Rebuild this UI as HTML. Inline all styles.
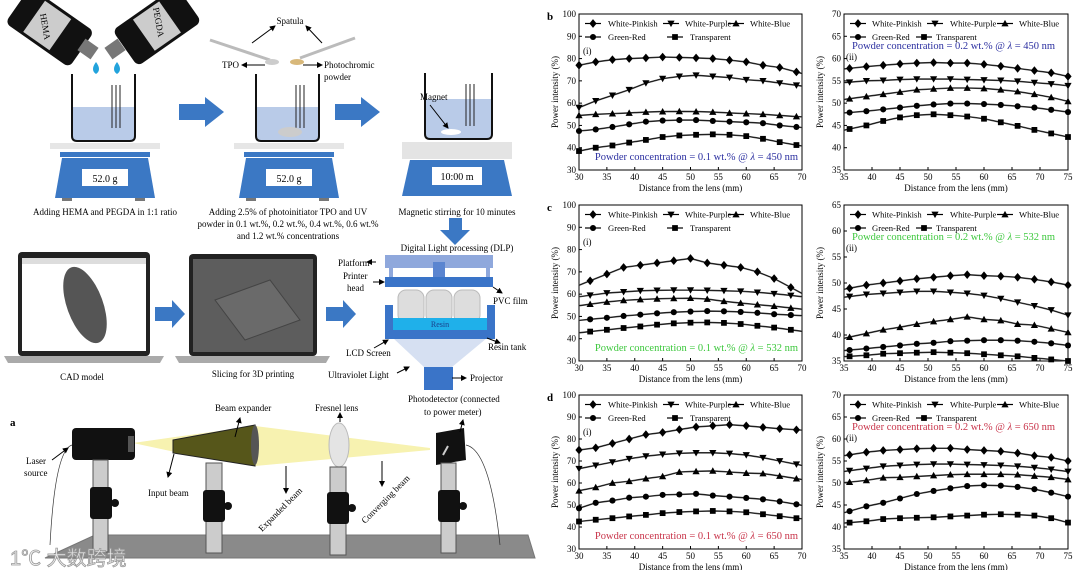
<!DOCTYPE html>
<html><head><meta charset="utf-8"><style>
html,body{margin:0;padding:0;background:#fff;}
svg{display:block;font-family:"Liberation Serif",serif;}
</style></head><body>
<svg id="s" width="1080" height="570" viewBox="0 0 1080 570" xmlns="http://www.w3.org/2000/svg">
<defs>
<marker id="ah" markerWidth="6" markerHeight="6" refX="5" refY="3" orient="auto"><path d="M0,0 L6,3 L0,6 z" fill="#000"/></marker>
</defs>
<rect width="1080" height="570" fill="#fff"/>
<g>
<rect x="12" y="5" width="78" height="44" rx="6" fill="#111" transform="rotate(35 50 25)"/>
<rect x="32" y="8" width="32" height="38" fill="#ccc" transform="rotate(35 50 25)"/>
<text x="0" y="0" font-size="9" transform="translate(40,14) rotate(80)">HEMA</text>
<rect x="80" y="42" width="16" height="14" fill="#777" transform="rotate(35 88 49)"/>
<rect x="117" y="5" width="78" height="44" rx="6" fill="#111" transform="rotate(-35 155 25)"/>
<rect x="140" y="8" width="32" height="38" fill="#ccc" transform="rotate(-35 155 25)"/>
<text x="0" y="0" font-size="9" transform="translate(153,8) rotate(80)">PEGDA</text>
<rect x="107" y="42" width="16" height="14" fill="#777" transform="rotate(-35 115 49)"/>
<path d="M96,62 q-6,8 0,12 q6,-4 0,-12z" fill="#22a3dc"/>
<path d="M117,62 q-6,8 0,12 q6,-4 0,-12z" fill="#22a3dc"/>
</g>
<g id="b1">
<rect x="72" y="107" width="63" height="33" fill="#b9cbe8"/>
<path d="M72,74 L72,136 q0,5 5,5 L130,141 q5,0 5,-5 L135,74" fill="none" stroke="#111" stroke-width="2"/>
<g stroke="#222" stroke-width="1"><line x1="112" y1="85" x2="112" y2="128"/><line x1="116" y1="85" x2="116" y2="128"/><line x1="120" y1="85" x2="120" y2="128"/></g>
<rect x="50" y="143" width="110" height="6" fill="#e6e6e6"/>
<rect x="60" y="152" width="90" height="5" fill="#3b78c4"/>
<path d="M62,158 L148,158 L155,198 L55,198z" fill="#3b78c4"/>
<rect x="82" y="169" width="46" height="17" fill="#fff"/>
<text x="105" y="182" font-size="10" text-anchor="middle">52.0 g</text>
<rect x="62" y="198" width="10" height="3" fill="#777"/><rect x="135" y="198" width="10" height="3" fill="#777"/>
</g>
<use href="#b1" x="184"/>
<ellipse cx="290" cy="132" rx="12" ry="5" fill="#ccc"/>
<line x1="210" y1="40" x2="270" y2="60" stroke="#bbb" stroke-width="3"/>
<ellipse cx="272" cy="62" rx="7" ry="3" fill="#ccc"/>
<line x1="355" y1="38" x2="300" y2="58" stroke="#bbb" stroke-width="3"/>
<ellipse cx="297" cy="62" rx="7" ry="3" fill="#d8b87a"/>
<text x="290" y="24" font-size="9" text-anchor="middle">Spatula</text>
<line x1="252" y1="43" x2="275" y2="26" stroke="#000" marker-end="url(#ah)"/>
<line x1="322" y1="43" x2="306" y2="26" stroke="#000" marker-end="url(#ah)"/>
<text x="222" y="68" font-size="9">TPO</text>
<line x1="265" y1="65" x2="242" y2="65" stroke="#000" marker-end="url(#ah)"/>
<text x="324" y="68" font-size="9">Photochromic</text>
<text x="324" y="80" font-size="9">powder</text>
<line x1="303" y1="65" x2="322" y2="65" stroke="#000" marker-end="url(#ah)"/>
<rect x="425" y="99" width="67" height="39" fill="#b9cbe8"/>
<path d="M425,73 L425,134 q0,5 5,5 L487,139 q5,0 5,-5 L492,73" fill="none" stroke="#111" stroke-width="2"/>
<g stroke="#222"><line x1="466" y1="84" x2="466" y2="126"/><line x1="470" y1="84" x2="470" y2="126"/><line x1="474" y1="84" x2="474" y2="126"/></g>
<ellipse cx="451" cy="132" rx="10" ry="3" fill="#fff"/>
<text x="420" y="100" font-size="9">Magnet</text>
<line x1="430" y1="105" x2="448" y2="128" stroke="#000" marker-end="url(#ah)"/>
<rect x="402" y="142" width="110" height="17" fill="#e4e4e4"/>
<path d="M410,160 L504,160 L512,196 L402,196z" fill="#3b78c4"/>
<rect x="432" y="167" width="50" height="18" fill="#fff"/>
<text x="457" y="180" font-size="10" text-anchor="middle">10:00 m</text>
<g fill="#3b78c4">
<path d="M179,104 L205,104 L205,97 L224,112 L205,127 L205,120 L179,120z"/>
<path d="M335,104 L361,104 L361,97 L380,112 L361,127 L361,120 L335,120z"/>
<path d="M449,218 L462,218 L462,230 L470,230 L455,245 L440,230 L449,230z"/>
<path d="M155,307 L172,307 L172,300 L185,314 L172,328 L172,321 L155,321z"/>
<path d="M326,307 L343,307 L343,300 L356,314 L343,328 L343,321 L326,321z"/>
</g>
<g font-size="9" text-anchor="middle">
<text x="105" y="215">Adding HEMA and PEGDA in 1:1 ratio</text>
<text x="288" y="215">Adding 2.5% of photoinitiator TPO and UV</text>
<text x="288" y="227">powder in 0.1 wt.%, 0.2 wt.%, 0.4 wt.%, 0.6 wt.%</text>
<text x="288" y="239">and 1.2 wt.% concentrations</text>
<text x="457" y="215">Magnetic stirring for 10 minutes</text>
<text x="457" y="251">Digital Light processing (DLP)</text>
<text x="82" y="380">CAD model</text>
<text x="253" y="377">Slicing for 3D printing</text>
</g>
<rect x="18" y="252" width="132" height="104" rx="4" fill="#222"/>
<rect x="22" y="258" width="124" height="93" fill="#fff"/>
<rect x="22" y="258" width="124" height="6" fill="#ddd"/>
<ellipse cx="85" cy="305" rx="18" ry="40" fill="#555" transform="rotate(-20 85 305)"/>
<path d="M4,356 L164,356 L160,363 L8,363z" fill="#aaa"/>
<rect x="189" y="254" width="128" height="102" rx="4" fill="#222"/>
<rect x="193" y="259" width="120" height="93" fill="#5d5d5d"/>
<path d="M215,300 L270,280 L300,320 L245,340z" fill="#6a6a6a" stroke="#444"/>
<path d="M175,356 L330,356 L326,363 L179,363z" fill="#aaa"/>
<rect x="385" y="255" width="108" height="13" fill="#8fa8dc"/>
<rect x="433" y="262" width="12" height="18" fill="#5b85d0"/>
<rect x="389" y="268" width="4" height="10" fill="#8fa8dc"/><rect x="486" y="268" width="4" height="10" fill="#8fa8dc"/>
<rect x="385" y="277" width="108" height="10" fill="#3a74c8"/>
<g fill="#ddd" stroke="#bbb"><rect x="398" y="290" width="26" height="33" rx="8"/><rect x="426" y="290" width="26" height="33" rx="8"/><rect x="454" y="290" width="26" height="33" rx="8"/></g>
<path d="M393,338 L487,338 L452,367 L424,367z" fill="#d6e0f2"/>
<rect x="385" y="305" width="8" height="33" fill="#3a74c8"/>
<rect x="487" y="305" width="8" height="33" fill="#3a74c8"/>
<rect x="385" y="330" width="110" height="9" fill="#3a74c8"/>
<rect x="393" y="318" width="94" height="12" fill="#1fb0ea"/>
<text x="440" y="327" font-size="8" text-anchor="middle" fill="#1a3f8a">Resin</text>
<rect x="424" y="367" width="29" height="23" fill="#3a74c8"/>
<g font-size="9">
<text x="338" y="266">Platform</text>
<text x="343" y="279">Printer</text><text x="347" y="291">head</text>
<text x="493" y="304">PVC film</text>
<text x="346" y="356">LCD Screen</text>
<text x="488" y="350">Resin tank</text>
<text x="328" y="378">Ultraviolet Light</text>
<text x="470" y="381">Projector</text>
<text x="408" y="402">Photodetector (connected</text>
<text x="424" y="415">to power meter)</text>
</g>
<g stroke="#000" marker-end="url(#ah)">
<line x1="376" y1="262" x2="367" y2="262"/><line x1="373" y1="282" x2="384" y2="282"/>
<line x1="493" y1="287" x2="502" y2="293"/><line x1="374" y1="348" x2="388" y2="340"/>
<line x1="397" y1="373" x2="409" y2="367"/><line x1="487" y1="338" x2="500" y2="343"/>
<line x1="452" y1="378" x2="466" y2="378"/>
</g>
<text x="10" y="426" font-size="11" font-weight="bold">a</text>
<path d="M45,558 L95,535 L528,535 L535,558z" fill="#8a8a8a" stroke="#777"/>
<path d="M133,443 L175,437 L255,426 L430,448 L430,450 L255,466 L175,452z" fill="#f7f2b0"/>
<path d="M173,440 L255,425 L255,466 L173,453z" fill="#56561a" stroke="#222"/>
<ellipse cx="255" cy="445" rx="4" ry="20" fill="#555"/>
<rect x="72" y="428" width="63" height="32" rx="4" fill="#111"/>
<rect x="128" y="436" width="6" height="16" fill="#555"/>
<ellipse cx="339" cy="445" rx="10" ry="22" fill="#e4e4e4" stroke="#bbb"/>
<path d="M436,433 L464,428 L466,460 L436,465z" fill="#111"/>
<line x1="443" y1="455" x2="448" y2="446" stroke="#ccc" stroke-width="2"/>
<g fill="#ccc" stroke="#555">
<rect x="93" y="460" width="15" height="92"/><rect x="206" y="463" width="16" height="90"/>
<rect x="330" y="467" width="16" height="88"/><rect x="441" y="463" width="15" height="90"/>
</g>
<g fill="#111">
<rect x="90" y="487" width="22" height="32" rx="3"/><circle cx="115" cy="503" r="4"/>
<rect x="203" y="490" width="22" height="32" rx="3"/><circle cx="228" cy="506" r="4"/>
<rect x="327" y="492" width="22" height="32" rx="3"/><circle cx="352" cy="508" r="4"/>
<rect x="438" y="490" width="22" height="32" rx="3"/><circle cx="463" cy="506" r="4"/>
</g>
<path d="M72,445 Q55,450 50,545" fill="none" stroke="#333" stroke-width="0.7"/>
<path d="M466,445 Q490,450 500,545" fill="none" stroke="#333" stroke-width="0.7"/>
<g font-size="9">
<text x="26" y="464">Laser</text><text x="24" y="476">source</text>
<text x="215" y="411">Beam expander</text>
<text x="315" y="411">Fresnel lens</text>
<text x="148" y="496">Input beam</text>
<text transform="translate(262,532) rotate(-45)">Expanded beam</text>
<text transform="translate(365,524) rotate(-45)">Converging beam</text>
</g>
<g stroke="#000" marker-end="url(#ah)">
<line x1="52" y1="460" x2="68" y2="448"/><line x1="235" y1="437" x2="240" y2="418"/>
<line x1="340" y1="422" x2="340" y2="413"/><line x1="460" y1="432" x2="463" y2="420"/>
<line x1="174" y1="454" x2="168" y2="477"/><line x1="286" y1="466" x2="286" y2="493"/>
<line x1="382" y1="461" x2="382" y2="486"/>
</g>
<text x="10" y="565" font-size="20" fill="#f4f4f4" stroke="#999" stroke-width="0.8" font-family="Liberation Sans,Noto Sans CJK SC,sans-serif">1℃ 大数跨境</text>
<g id="charts"></g>
</svg>
<script>
var ns="http://www.w3.org/2000/svg",G=document.getElementById("charts");
function el(t,a,p){var e=document.createElementNS(ns,t);for(var k in a)e.setAttribute(k,a[k]);(p||G).appendChild(e);return e;}
function tx(x,y,s,a){var e=el("text",Object.assign({x:x,y:y},a||{}));e.textContent=s;return e;}
function mk(t,x,y,r){
 if(t==0)el("path",{d:"M"+x+","+(y-r*1.2)+"L"+(x+r)+","+y+"L"+x+","+(y+r*1.2)+"L"+(x-r)+","+y+"z",fill:"#000"});
 if(t==1)el("path",{d:"M"+(x-r)+","+(y-r*.8)+"L"+(x+r)+","+(y-r*.8)+"L"+x+","+(y+r)+"z",fill:"#000"});
 if(t==2)el("path",{d:"M"+(x-r)+","+(y+r*.8)+"L"+(x+r)+","+(y+r*.8)+"L"+x+","+(y-r)+"z",fill:"#000"});
 if(t==3)el("circle",{cx:x,cy:y,r:r*.85,fill:"#000"});
 if(t==4)el("rect",{x:x-r*.8,y:y-r*.8,width:r*1.6,height:r*1.6,fill:"#000"});
}
var names=["White-Pinkish","White-Purple","White-Blue","Green-Red","Transparent"];
function chart(o){
 var X0=o.x,Y0=o.y,W=o.w,H=o.h;
 var sx=function(v){return X0+(v-o.xmin)/(o.xmax-o.xmin)*W},sy=function(v){return Y0+H-(v-o.ymin)/(o.ymax-o.ymin)*H};
 el("rect",{x:X0,y:Y0,width:W,height:H,fill:"none",stroke:"#000","stroke-width":1});
 for(var v=o.ymin;v<=o.ymax+.01;v+=o.ys){var y=sy(v);el("line",{x1:X0,y1:y,x2:X0+3,y2:y,stroke:"#000"});tx(X0-3,y+3,v,{"font-size":9,"text-anchor":"end"});}
 for(var v=o.xmin;v<=o.xmax+.01;v+=5){var x=sx(v);el("line",{x1:x,y1:Y0+H,x2:x,y2:Y0+H-3,stroke:"#000"});tx(x,Y0+H+10,v,{"font-size":9,"text-anchor":"middle"});}
 tx(X0+W/2,Y0+H+21,"Distance from the lens (mm)",{"font-size":9,"text-anchor":"middle"});
 tx(0,0,"Power intensity (%)",{"font-size":9,"text-anchor":"middle",transform:"translate("+(X0-21)+","+(Y0+H/2)+") rotate(-90)"});
 o.d.forEach(function(s,i){
  var pts=s.map(function(v,j){return [sx(o.x0+j*o.dx),sy(v)]});
  var a=pts[0],b=pts[1],z=pts[pts.length-1],q=pts[pts.length-2];
  var p=[];if(a[0]>X0+1){p.push([X0,a[1]+(a[1]-b[1])*(a[0]-X0)/(b[0]-a[0])])}
  p=p.concat(pts);if(z[0]<X0+W-1){p.push([X0+W,z[1]+(z[1]-q[1])*(X0+W-z[0])/(z[0]-q[0])])}
  var ps=p.map(function(t){return t.join(",")}).join(" ");
  el("polyline",{points:ps,fill:"none",stroke:"#555","stroke-width":1.6});
  el("polyline",{points:ps,fill:"none",stroke:"#000","stroke-width":.6});
  pts.forEach(function(t){mk(i,t[0],t[1],3.6)});
 });
 var L=o.leg;
 var rows=[[0,L[0],L[1]],[1,L[2],L[3]],[2,L[4],L[5]],[3,L[0],L[1]],[4,L[6],L[7]]];
 rows.forEach(function(r,k){var y=Y0+(k<3?9.5:23);var x1=X0+r[1];
  el("line",{x1:x1-8,y1:y,x2:x1+8,y2:y,stroke:"#000","stroke-width":1.2});mk(r[0],x1,y,3.6);
  tx(X0+r[2],y+3.2,names[r[0]],{"font-size":8.6});});
 tx(o.lx,o.ly,"("+o.lab+")",{"font-size":9});
 var t=tx(o.ax,o.ay,"",{"font-size":10.5,fill:o.col,"text-anchor":o.anc||"start"});
 t.innerHTML="Powder concentration = "+o.conc+" wt.% @ <tspan font-style='italic'>λ</tspan> = "+o.wl+" nm";
 if(o.big)tx(X0-32,Y0+6,o.big,{"font-size":11,"font-weight":"bold"});
}
var LL=[14,29,92,106,157,171,96,111],LR=[14,28,91,106,161,175,80,92];
var rows=[{y:14,h:156,col:"#2b2fa0",wl:450,big:"b",
 d1:[[77,78.5,79.5,80,80.3,80.7,80.5,80.3,80,79.3,78.5,77,76,74],[58,61,63.5,66,69,71,72,72.5,72,71.5,70.5,70,69,68],[54.5,55,55.3,55.6,56,56.2,56.3,56.2,56,55.6,55.3,55,54.5,54],[47.5,48.2,49.3,50.5,51.7,52.2,52.4,52.4,52,51.7,51.4,51,50,49.3],[38.5,40,41,42.3,43.5,44.8,45.5,45.8,46,45.8,45.2,44,42.5,41.2]],x01:30,
 d2:[[57.8,58.2,58.5,58.8,59,59.1,59,59,58.7,58.3,57.8,57.3,56.8,56],[54.7,55,55.1,55.3,55.4,55.4,55.4,55.3,55.2,55.1,54.9,54.6,54.3,53.9],[51,51.5,52,52.5,53,53.2,53.4,53.4,53.3,53,52.6,52,51.3,50.4],[47.9,48.2,48.6,49,49.4,49.7,49.9,49.9,49.8,49.6,49.3,49,48.5,48],[44.2,45,46,46.8,47.3,47.5,47.3,47,46.5,45.7,44.9,44,43.2,42.4]],ymin2:35,ymax2:70},
 {y:205,h:156,col:"#3ec83e",wl:532,big:"c",
 d1:[[66,69,72,73,74,75,76,74,73,72,70,67,63],[59.5,60.5,61,61.5,61.7,61.8,61.8,61.7,61.5,61.3,60.8,60.2,59.4],[55.5,56.5,57.2,57.6,57.9,58.1,58.2,57.8,56.8,56,55.3,54.6,53.8],[48.7,49.4,50.2,50.8,51.4,51.9,52.2,52.4,52.3,52,51.6,51,50.6],[43.2,44,44.8,45.5,46.3,46.9,47.2,47.3,47.1,46.6,45.8,45,44]],x01:32,
 d2:[[49,49.6,50,50.4,50.8,51.1,51.4,51.6,51.4,51.3,51.1,50.7,50.2,49.6],[47.4,47.8,48,48.2,48.4,48.4,48.2,48,47.6,47,46.3,45.6,44.8,43.8],[39.6,40.3,41,41.5,42.1,42.6,43,43.5,43,42.8,42.1,41.9,41.2,40.5],[37.1,37.4,37.7,38,38.3,38.5,38.8,38.9,39,39,38.9,38.7,38.4,38],[35.9,36.1,36.4,36.5,36.6,36.7,36.6,36.5,36.3,36.1,35.9,35.6,35.3,35]],ymin2:35,ymax2:65},
 {y:395,h:154,col:"#c8344a",wl:650,big:"d",
 d1:[[75,76,78,80,82,83,84.3,85.5,86,86.5,86,85.3,84.7,84.2],[66.5,68,69.5,71,72.2,73,73.5,73.7,73.7,73.4,72.7,71.5,70,68.5],[56.5,58,60,60.8,62,63,65,65.3,65.5,65,64.5,64.3,63.2,62],[48.5,51,52,53.3,53.8,54.6,54.8,55.1,54.3,53.8,53.2,52.6,51.6,50.3],[42.5,43.3,44,44.8,45.5,46.3,46.8,47.1,47.3,47.1,46.7,45.8,44.9,44]],x01:30,
 d2:[[56.4,57,57.4,57.6,57.8,57.9,57.9,57.6,57.4,57.2,56.8,56.2,55.8,55],[52.8,53.3,53.8,54,54.2,54.3,54.3,54.2,54.1,54,53.8,53.5,53.1,52.6],[50.2,50.6,51.2,51.3,51.5,51.7,51.9,52,52,52,51.9,51.6,51.3,50.8],[43.6,44.7,45.5,46.5,47.5,48.2,48.8,49.3,49.5,49.4,49.1,48.6,47.8,46.9],[41,41.3,41.8,42,42.1,42.2,42.4,42.6,42.8,42.9,42.8,42.6,42,41]],ymin2:35,ymax2:70}];
rows.forEach(function(r){
 chart({x:579,y:r.y,w:223,h:r.h,xmin:30,xmax:70,ymin:30,ymax:100,ys:10,x0:r.x01,dx:3,d:r.d1,leg:LL,lx:583,ly:r.y+40,lab:"i",ax:798,ay:r.y+r.h-10,anc:"end",col:r.col,conc:"0.1",wl:r.wl,big:r.big});
 chart({x:844,y:r.y,w:224,h:r.h,xmin:35,xmax:75,ymin:r.ymin2,ymax:r.ymax2,ys:5,x0:36,dx:3,d:r.d2,leg:LR,lx:846,ly:r.y+46,lab:"ii",ax:852,ay:r.y+35,col:r.col,conc:"0.2",wl:r.wl});
});
</script>
</body></html>
